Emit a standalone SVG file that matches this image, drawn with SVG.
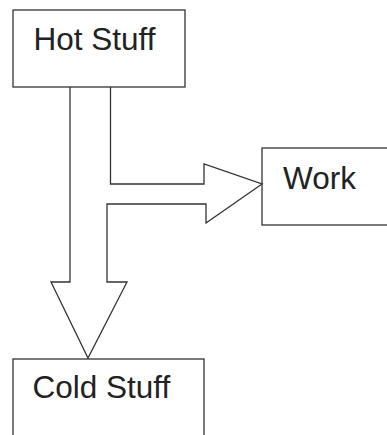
<svg xmlns="http://www.w3.org/2000/svg" width="387" height="435" viewBox="0 0 387 435">
<style>
.box{fill:#fff;stroke:#333;stroke-width:1.3}
.lbl{font-family:"Liberation Sans",Arial,sans-serif;font-size:31.5px;fill:#222}
.conn{fill:none;stroke:#333;stroke-width:1.3;stroke-linejoin:miter}
</style>
<rect width="387" height="435" fill="#fff"/>
<g id="hot-stuff">
<rect class="box" x="13" y="10" width="172" height="77"/>
<text class="lbl" x="33.5" y="50">Hot Stuff</text>
</g>
<g id="work">
<rect class="box" x="262" y="148" width="140" height="77"/>
<text class="lbl" x="283" y="188.5">Work</text>
</g>
<g id="cold-stuff">
<rect class="box" x="13" y="359" width="191" height="100"/>
<text class="lbl" x="32.5" y="398">Cold Stuff</text>
</g>
<g id="connectors">
<path class="conn" d="M70,87 V282 H51 L88,358 L127,282 H107 V204 H206 V223 L262,184 L204,164 V184 H110.5 V87"/>
</g>
</svg>
